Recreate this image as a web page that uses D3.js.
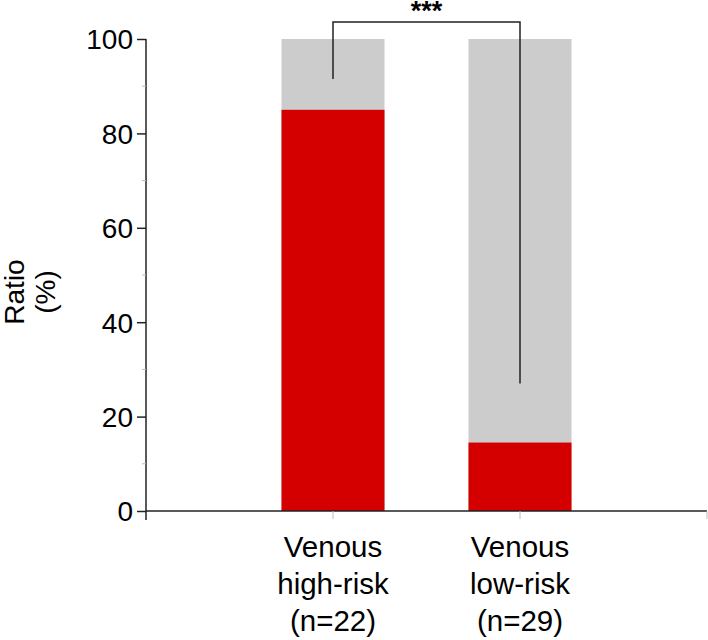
<!DOCTYPE html>
<html>
<head>
<meta charset="utf-8">
<script src="https://cdn.jsdelivr.net/npm/d3@7"></script>
<style>
  html, body { margin: 0; padding: 0; background: #fff; }
  text { font-family: "Liberation Sans", Arial, sans-serif; fill: #000; }
</style>
</head>
<body>
<svg id="chart" width="708" height="640"></svg>
<script>
// ---- data ----
const categories = ["Venous high-risk (n=22)", "Venous low-risk (n=29)"];
const categoryLines = [["Venous", "high-risk", "(n=22)"], ["Venous", "low-risk", "(n=29)"]];
const redValues = [85, 14.5];
const totalValues = [100, 100];
const yTicks = [0, 20, 40, 60, 80, 100];
const yMinorTicks = [10, 30, 50, 70, 90];
const bracketTop = 103.6;
const bracketEnds = [91.5, 27];
const sigLabel = "***";
const yLabelLines = ["Ratio", "(%)"];

// ---- layout ----
const svg = d3.select("#chart");
const x = d3.scalePoint().domain(["_start", ...categories, "_end"]).range([146, 707]);
const y = d3.scaleLinear().domain([0, 100]).range([511, 39]);
const barW = 103;
const axisColor = "#222";

// bars: gray total then red
svg.selectAll("rect.tot").data(categories).join("rect")
  .attr("x", d => x(d) - barW / 2)
  .attr("width", barW)
  .attr("y", (d, i) => y(totalValues[i]))
  .attr("height", (d, i) => y(0) - y(totalValues[i]))
  .attr("fill", "#cccccc");
svg.selectAll("rect.red").data(categories).join("rect")
  .attr("x", d => x(d) - barW / 2)
  .attr("width", barW)
  .attr("y", (d, i) => y(redValues[i]))
  .attr("height", (d, i) => y(0) - y(redValues[i]))
  .attr("fill", "#d40000");

// y axis
const yAxis = d3.axisLeft(y).tickValues(yTicks).tickSize(9).tickPadding(4).tickSizeOuter(0);
const gy = svg.append("g").attr("transform", "translate(146,0)").call(yAxis);
gy.select(".domain").remove();
gy.selectAll(".tick line").attr("stroke", axisColor).attr("stroke-width", 1.5);
gy.selectAll(".tick text").style("font-size", "28px").attr("font-family", "Liberation Sans, Arial, sans-serif").attr("dy", "0.35em");
gy.append("line").attr("x1", 0).attr("x2", 0).attr("y1", y(100)).attr("y2", y(0) + 9)
  .attr("stroke", axisColor).attr("stroke-width", 1.5);
gy.selectAll(".minor").data(yMinorTicks).join("line")
  .attr("x1", -4).attr("x2", 0).attr("y1", d => y(d)).attr("y2", d => y(d))
  .attr("stroke", "#bbb").attr("stroke-width", 1);

// x axis
svg.append("line").attr("x1", x("_start")).attr("x2", x("_end")).attr("y1", y(0)).attr("y2", y(0))
  .attr("stroke", axisColor).attr("stroke-width", 1.5);
svg.selectAll(".xtick").data([...categories, "_end"]).join("line")
  .attr("x1", d => x(d)).attr("x2", d => x(d)).attr("y1", y(0)).attr("y2", y(0) + 8)
  .attr("stroke", "#bbb").attr("stroke-width", 1);

// category labels
categoryLines.forEach((lines, i) => {
  const t = svg.append("text").attr("text-anchor", "middle")
    .attr("x", x(categories[i])).attr("y", 557).style("font-size", "29.5px");
  lines.forEach((l, j) => t.append("tspan").attr("x", x(categories[i])).attr("dy", j === 0 ? 0 : 37).text(l));
});

// y label
const yl = svg.append("text").attr("transform", "translate(24,292) rotate(-90)")
  .attr("text-anchor", "middle").style("font-size", "28px");
yl.append("tspan").attr("x", 0).attr("y", 0).text(yLabelLines[0]);
yl.append("tspan").attr("x", 0).attr("y", 31).text(yLabelLines[1]);

// significance bracket
const bx = categories.map(c => x(c));
svg.append("path")
  .attr("d", d3.line()([[bx[0], y(bracketEnds[0])], [bx[0], y(bracketTop)], [bx[1], y(bracketTop)], [bx[1], y(bracketEnds[1])]]))
  .attr("fill", "none").attr("stroke", axisColor).attr("stroke-width", 1.5);
svg.append("text").attr("x", (bx[0] + bx[1]) / 2).attr("y", 20)
  .attr("text-anchor", "middle").style("font-size", "27px").style("font-weight", "bold").text(sigLabel);
</script>
</body>
</html>
